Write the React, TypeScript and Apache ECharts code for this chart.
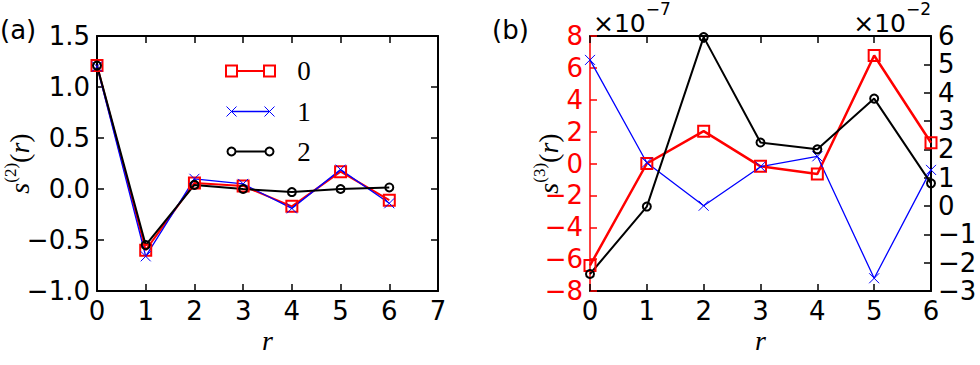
import React, { useEffect, useRef } from "react";
import * as echarts from "echarts";

// ---------- data ----------
const rValues = [0, 1, 2, 3, 4, 5, 6];
// panel (a): s^(2)(r)
const a0 = [1.21, -0.6, 0.06, 0.03, -0.17, 0.17, -0.11];
const a1 = [1.2, -0.66, 0.1, 0.05, -0.19, 0.19, -0.14];
const a2 = [1.21, -0.55, 0.04, 0.0, -0.03, 0.0, 0.015];
// panel (b): s^(3)(r); red & blue on left axis (×1e-7), black on right axis (×1e-2)
const b0 = [-6.4, 0.0, 2.03, -0.18, -0.66, 6.78, 1.3];
const b1 = [6.5, 0.05, -2.65, -0.2, 0.45, -7.2, -0.4];
const b2 = [-2.4, -0.02, 5.96, 2.24, 2.0, 3.79, 0.8];
const legendLabels = ["0", "1", "2"];
const panelLabels = ["(a)", "(b)"];
const leftExponent = "−7";
const rightExponent = "−2";

const RED = "#ff0000";
const BLUE = "#0000ff";
const BLACK = "#000000";
const SANS = "DejaVu Sans";
const SERIF = "Liberation Serif";
const X_PATH = "path://M0,0L10,10M10,0L0,10";

const pairs = (ys: number[]) => rValues.map((r, i) => [r, ys[i]]);
const minus = (s: string) => s.replace("-", "−");
const fmt1 = (v: number) => minus(v.toFixed(1));
const fmt0 = (v: number) => minus(String(Math.round(v)));

export default function App() {
  const ref = useRef<HTMLDivElement>(null);
  useEffect(() => {
    document.body.style.margin = "0";
    const chart = echarts.init(ref.current!, undefined, { renderer: "svg" });

    const tick = (color: string) => ({
      show: true,
      inside: true,
      length: 7,
      lineStyle: { color, width: 1.5 },
    });
    const line = (color: string, width = 2) => ({
      show: true,
      onZero: false,
      lineStyle: { color, width },
    });
    const lbl = (color: string, show = true, fmt?: (v: number) => string) => ({
      show,
      color,
      fontFamily: SANS,
      fontSize: 26,
      margin: 7,
      formatter: fmt,
    });

    const nameRich = {
      s: { fontFamily: SERIF, fontStyle: "italic", fontSize: 28, lineHeight: 31, verticalAlign: "bottom", color: BLACK },
      n: { fontFamily: SERIF, fontSize: 28, lineHeight: 31, verticalAlign: "bottom", color: BLACK },
      p: { fontFamily: SERIF, fontSize: 17, lineHeight: 8, verticalAlign: "top", color: BLACK },
    };

    const sq = (color: string) => ({
      symbol: "rect",
      symbolSize: 11,
      itemStyle: { color: "transparent", borderColor: color, borderWidth: 2 },
      lineStyle: { color, width: 2 },
    });
    const xs = (color: string) => ({
      symbol: X_PATH,
      symbolSize: 10,
      itemStyle: { color: "none", borderColor: color, borderWidth: 1 },
      lineStyle: { color, width: 1.3 },
    });
    const ci = (color: string) => ({
      symbol: "circle",
      symbolSize: 8,
      itemStyle: { color: "transparent", borderColor: color, borderWidth: 2 },
      lineStyle: { color, width: 2 },
    });

    const legendRows = [71, 111.5, 151.5];
    const legendGraphics: any[] = [];
    legendRows.forEach((y, i) => {
      const color = [RED, BLUE, BLACK][i];
      legendGraphics.push({
        type: "line",
        shape: { x1: 231.5, y1: y, x2: 269.5, y2: y },
        style: { stroke: color, lineWidth: i === 1 ? 1.3 : 2 },
      });
      [231.5, 269.5].forEach((cx) => {
        if (i === 0) {
          legendGraphics.push({
            type: "rect",
            shape: { x: cx - 5.5, y: y - 5.5, width: 11, height: 11 },
            style: { fill: "#fff", stroke: color, lineWidth: 2 },
          });
        } else if (i === 1) {
          legendGraphics.push({
            type: "line",
            shape: { x1: cx - 5, y1: y - 5, x2: cx + 5, y2: y + 5 },
            style: { stroke: color, lineWidth: 1 },
          });
          legendGraphics.push({
            type: "line",
            shape: { x1: cx - 5, y1: y + 5, x2: cx + 5, y2: y - 5 },
            style: { stroke: color, lineWidth: 1 },
          });
        } else {
          legendGraphics.push({
            type: "circle",
            shape: { cx, cy: y, r: 4 },
            style: { fill: "#fff", stroke: color, lineWidth: 2 },
          });
        }
      });
      legendGraphics.push({
        type: "text",
        x: 304,
        y,
        style: {
          text: legendLabels[i],
          fontFamily: SERIF,
          fontSize: 27,
          fill: BLACK,
          align: "center",
          verticalAlign: "middle",
        },
      });
    });

    const expRich = {
      a: { fontFamily: SANS, fontSize: 25, lineHeight: 36, verticalAlign: "bottom", fill: BLACK, color: BLACK },
      b: { fontFamily: SANS, fontSize: 17, lineHeight: 14, verticalAlign: "top", fill: BLACK, color: BLACK },
    };

    chart.setOption({
      animation: false,
      backgroundColor: "#ffffff",
      grid: [
        { left: 97, top: 36, width: 341, height: 255, outerBoundsMode: "none", containLabel: false },
        { left: 590, top: 36, width: 341, height: 255, outerBoundsMode: "none", containLabel: false },
      ],
      xAxis: [
        {
          type: "value", gridIndex: 0, position: "bottom", min: 0, max: 7, interval: 1,
          axisLine: line(BLACK), axisTick: tick(BLACK), axisLabel: lbl(BLACK, true, fmt0),
          splitLine: { show: false },
          name: "r", nameLocation: "middle", nameGap: 35, nameMoveOverlap: false,
          nameTextStyle: { fontFamily: SERIF, fontStyle: "italic", fontSize: 28, color: BLACK },
        },
        {
          type: "value", gridIndex: 0, position: "top", min: 0, max: 7, interval: 1,
          axisLine: line(BLACK), axisTick: tick(BLACK), axisLabel: { show: false },
          splitLine: { show: false },
        },
        {
          type: "value", gridIndex: 1, position: "bottom", min: 0, max: 6, interval: 1,
          axisLine: line(BLACK), axisTick: tick(BLACK), axisLabel: lbl(BLACK, true, fmt0),
          splitLine: { show: false },
          name: "r", nameLocation: "middle", nameGap: 35, nameMoveOverlap: false,
          nameTextStyle: { fontFamily: SERIF, fontStyle: "italic", fontSize: 28, color: BLACK },
        },
        {
          type: "value", gridIndex: 1, position: "top", min: 0, max: 6, interval: 1,
          axisLine: line(BLACK), axisTick: tick(BLACK), axisLabel: { show: false },
          splitLine: { show: false },
        },
      ],
      yAxis: [
        {
          type: "value", gridIndex: 0, position: "left", min: -1, max: 1.5, interval: 0.5,
          axisLine: line(BLACK), axisTick: tick(BLACK), axisLabel: lbl(BLACK, true, fmt1),
          splitLine: { show: false },
          name: "{s|s}{p|(2)}{n|(}{s|r}{n|)}", nameLocation: "middle", nameGap: 64, nameRotate: 90,
          nameMoveOverlap: false,
          nameTextStyle: { rich: nameRich },
        },
        {
          type: "value", gridIndex: 0, position: "right", min: -1, max: 1.5, interval: 0.5,
          axisLine: line(BLACK), axisTick: tick(BLACK), axisLabel: { show: false },
          splitLine: { show: false },
        },
        {
          type: "value", gridIndex: 1, position: "left", min: -8, max: 8, interval: 2,
          axisLine: line(RED, 1.5), axisTick: tick(RED), axisLabel: lbl(RED, true, fmt0),
          splitLine: { show: false },
          name: "{s|s}{p|(3)}{n|(}{s|r}{n|)}", nameLocation: "middle", nameGap: 28, nameRotate: 90,
          nameMoveOverlap: false,
          nameTextStyle: { rich: nameRich },
        },
        {
          type: "value", gridIndex: 1, position: "right", min: -3, max: 6, interval: 1,
          axisLine: line(BLACK), axisTick: tick(BLACK), axisLabel: lbl(BLACK, true, fmt0),
          splitLine: { show: false },
        },
      ],
      series: [
        { name: "0", type: "line", xAxisIndex: 0, yAxisIndex: 0, data: pairs(a0), ...sq(RED) },
        { name: "1", type: "line", xAxisIndex: 0, yAxisIndex: 0, data: pairs(a1), ...xs(BLUE) },
        { name: "2", type: "line", xAxisIndex: 0, yAxisIndex: 0, data: pairs(a2), ...ci(BLACK) },
        { name: "b0", type: "line", xAxisIndex: 2, yAxisIndex: 2, data: pairs(b0), ...sq(RED), lineStyle: { color: RED, width: 2.5 } },
        { name: "b1", type: "line", xAxisIndex: 2, yAxisIndex: 2, data: pairs(b1), ...xs(BLUE) },
        { name: "b2", type: "line", xAxisIndex: 2, yAxisIndex: 3, data: pairs(b2), ...ci(BLACK) },
      ],
      graphic: [
        ...legendGraphics,
        {
          type: "text", x: 0, y: 30,
          style: { text: panelLabels[0], fontFamily: SANS, fontSize: 26, fill: BLACK, verticalAlign: "middle" },
        },
        {
          type: "text", x: 492, y: 30,
          style: { text: panelLabels[1], fontFamily: SANS, fontSize: 26, fill: BLACK, verticalAlign: "middle" },
        },
        {
          type: "text", x: 593, y: 0,
          style: { text: `{a|×10}{b|${leftExponent}}`, rich: expRich },
        },
        {
          type: "text", x: 931, y: 0,
          style: { text: `{a|×10}{b|${rightExponent}}`, rich: expRich, align: "right" },
        },
      ],
    });
    return () => chart.dispose();
  }, []);
  return <div ref={ref} style={{ width: 980, height: 365 }} />;
}
